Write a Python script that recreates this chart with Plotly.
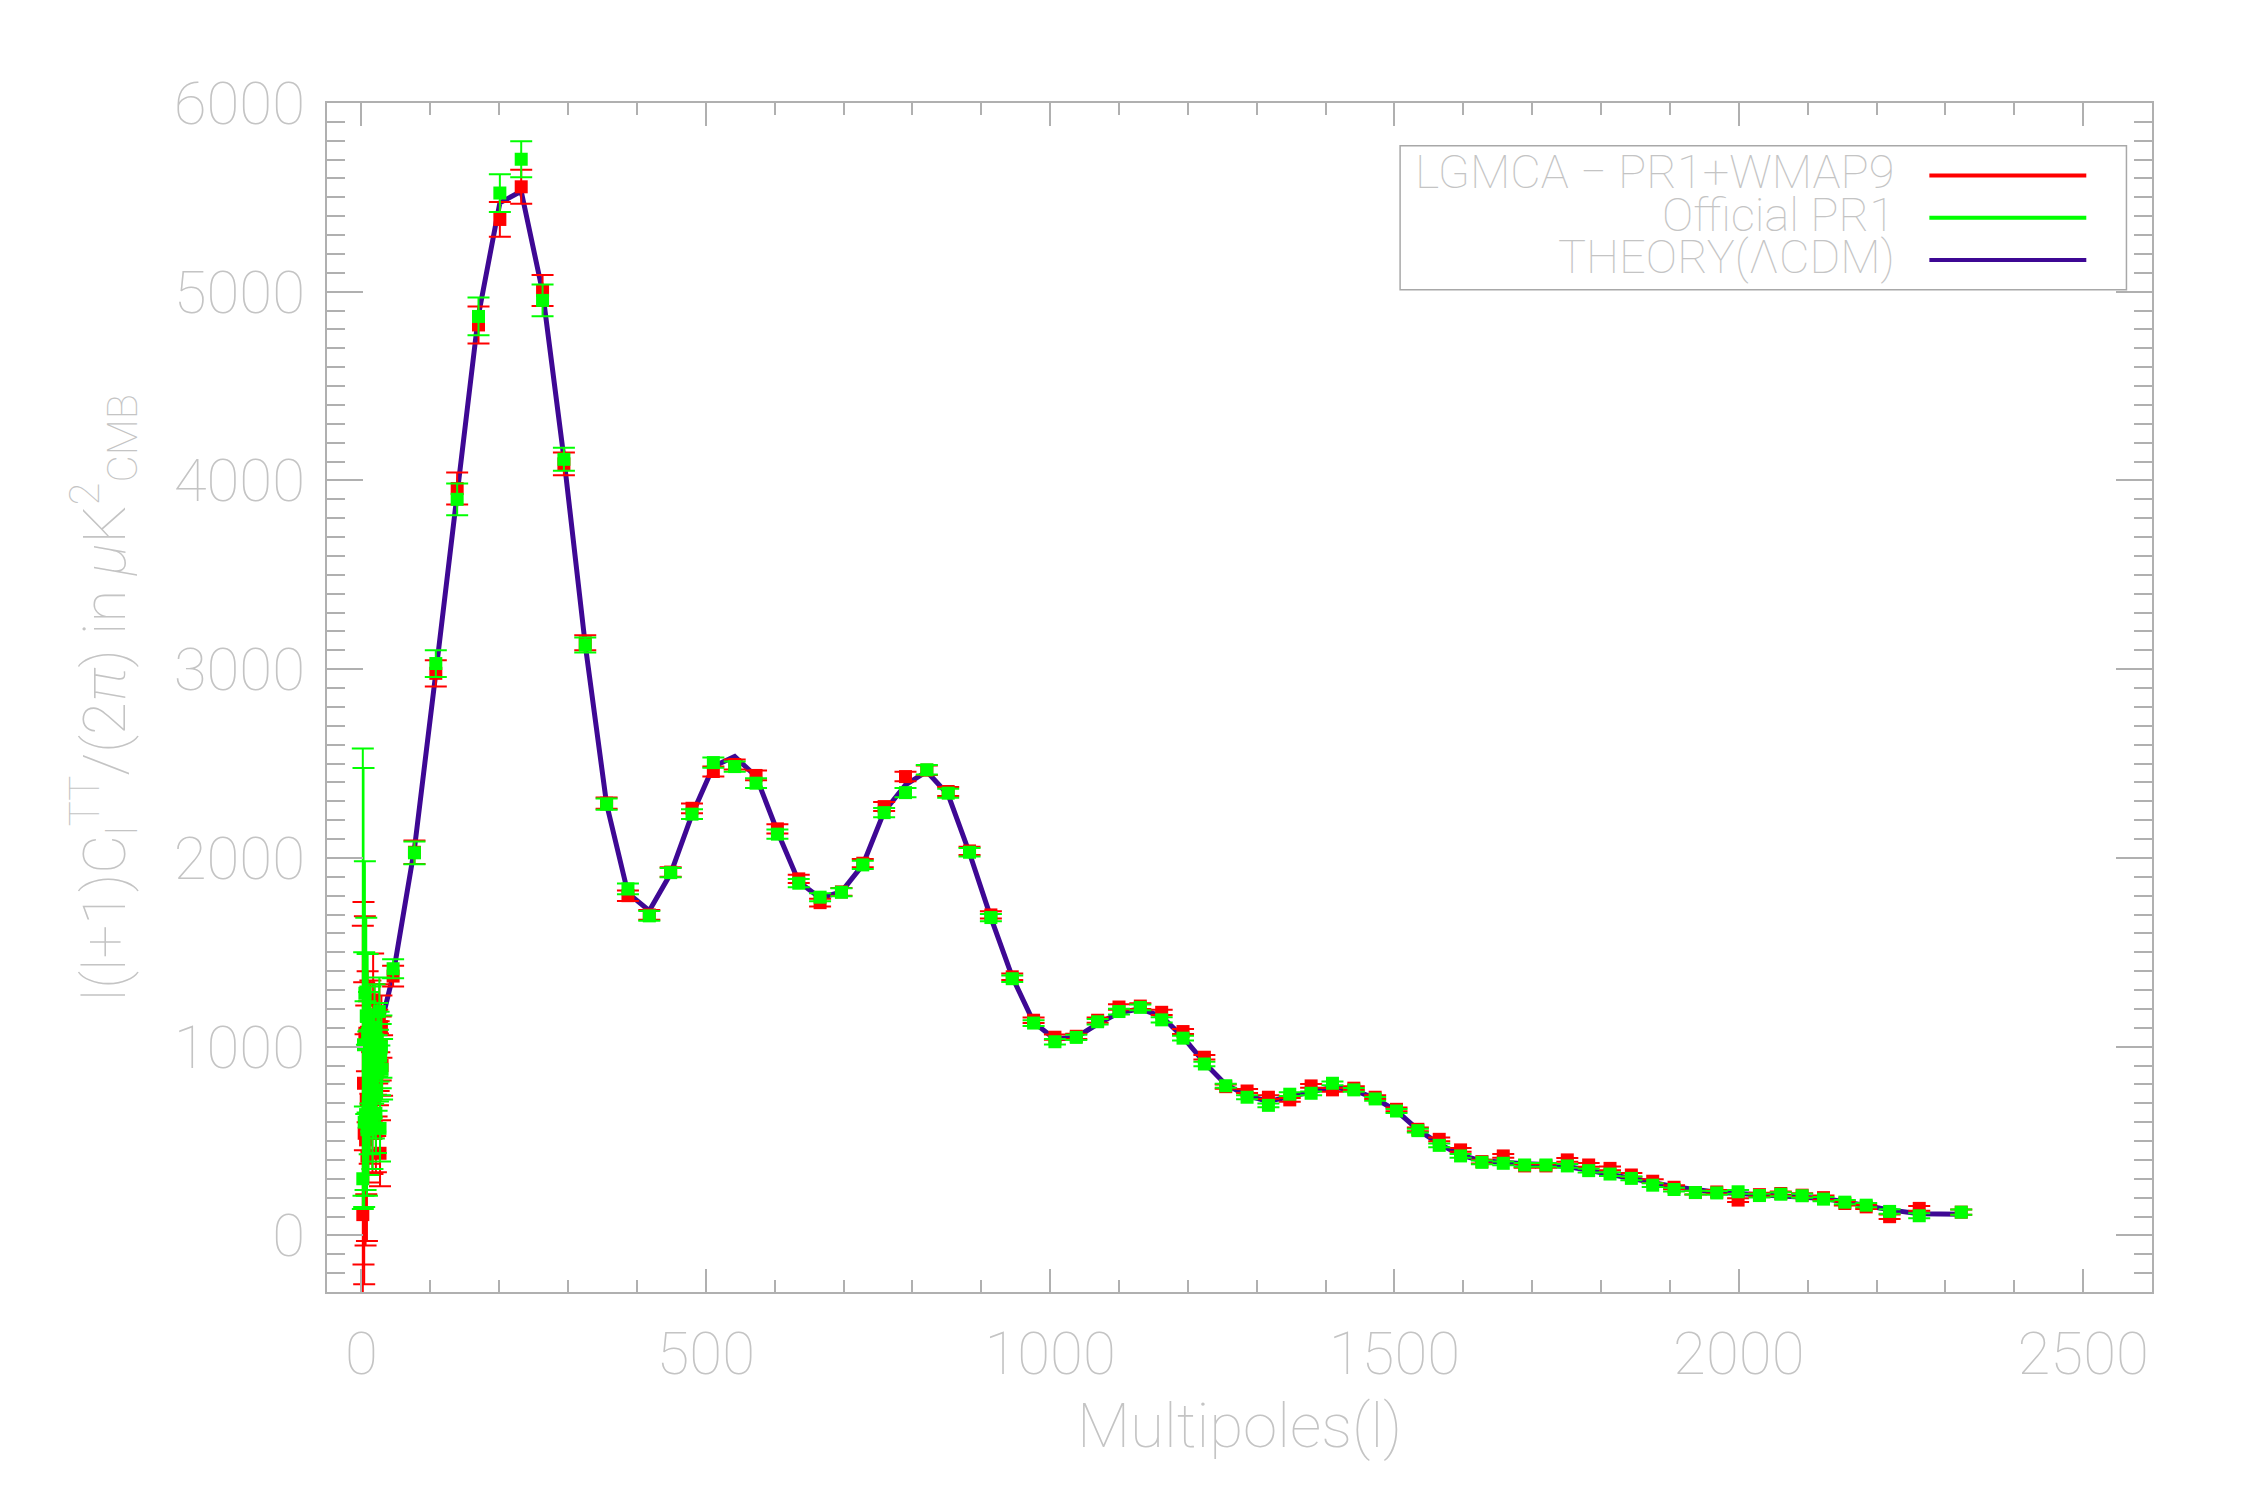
import plotly.graph_objects as go

# ---- data ----
# low multipoles, unbinned
ell_low = [2, 3, 4, 5, 6, 7, 8, 9, 10, 11, 12, 13, 14, 15, 16, 17, 18, 19, 20,
           21, 22, 23, 24, 25, 26, 27, 28, 29, 30]
pr1_low = [300, 1010, 600, 1283, 640, 1163, 560, 1071, 700, 940, 760, 1009, 841,
           894, 612, 948, 753, 1100, 771, 647, 860, 1036, 900, 1000, 1186, 567,
           950, 1000, 880]
pr1_low_err = [2280, 1466, 900, 700, 600, 520, 450, 420, 380, 350, 330, 310, 290,
               270, 260, 250, 240, 230, 220, 210, 200, 195, 190, 185, 180, 175,
               170, 165, 160]
pr1_low_err_minus = [160, 800, 450, 600, 400, 520, 350, 420, 380, 350, 330, 310,
                     290, 270, 260, 250, 240, 230, 220, 210, 200, 195, 190, 185,
                     180, 175, 170, 165, 160]
lgmca_low = [110, 806, 541, 1071, 506, 718, 420, 1000, 650, 900, 700, 1050, 820,
             870, 580, 1248, 760, 1106, 741, 540, 830, 1000, 880, 950, 1150, 435,
             990, 1106, 900]
lgmca_low_err = [1530, 960, 800, 620, 560, 500, 450, 400, 370, 340, 320, 300, 285,
                 270, 255, 245, 235, 225, 215, 205, 200, 195, 190, 185, 180, 175,
                 170, 165, 160]
theory_low = [1080, 1030, 980, 940, 910, 880, 860, 845, 835, 830, 828, 830, 835,
              840, 850, 860, 875, 890, 905, 925, 945, 965, 990, 1015, 1040, 1065,
              1090, 1115, 1140]

# binned multipoles
ell_bin = [46, 77, 108, 139, 170, 201, 232, 263, 294, 325, 356, 387, 418, 449,
           480, 511, 542, 573, 604, 635, 666, 697, 728, 759, 790, 821, 852, 883,
           914, 945, 976, 1007, 1038, 1069, 1100, 1131, 1162, 1193, 1224, 1255,
           1286, 1317, 1348, 1379, 1410, 1441, 1472, 1503, 1534, 1565, 1596, 1627,
           1658, 1689, 1720, 1751, 1782, 1813, 1844, 1875, 1906, 1937, 1968, 1999,
           2030, 2061, 2092, 2123, 2154, 2185, 2219, 2262, 2323]
pr1_bin = [1413, 2027, 3030, 3900, 4869, 5523, 5702, 4954, 4112, 3128, 2285, 1836,
           1693, 1922, 2232, 2505, 2484, 2396, 2126, 1866, 1792, 1818, 1963, 2240,
           2346, 2467, 2343, 2030, 1684, 1360, 1125, 1026, 1049, 1132, 1186, 1208,
           1142, 1045, 908, 793, 732, 689, 748, 753, 806, 771, 723, 659, 555, 477,
           421, 387, 382, 373, 373, 368, 343, 325, 302, 266, 243, 227, 225, 231,
           211, 218, 210, 192, 176, 160, 127, 104, 123]
pr1_bin_err = [50, 60, 71, 84, 100, 100, 95, 84, 61, 40, 30, 28, 26, 25, 26, 27,
               27, 26, 24, 22, 21, 21, 22, 24, 25, 25, 24, 22, 19, 17, 15, 14, 14,
               14, 15, 15, 14, 13, 12, 11, 11, 10, 10, 10, 10, 10, 10, 10, 10, 10,
               10, 10, 10, 10, 10, 10, 10, 10, 10, 10, 10, 10, 10, 10, 10, 10, 10,
               11, 11, 11, 12, 13, 14]
lgmca_bin = [1374, 2030, 2978, 3957, 4824, 5383, 5556, 5006, 4088, 3140, 2290,
             1800, 1698, 1925, 2263, 2458, 2495, 2437, 2154, 1889, 1763, 1820, 1972,
             2272, 2431, 2465, 2352, 2037, 1698, 1370, 1140, 1050, 1055, 1140, 1210,
             1215, 1182, 1080, 944, 788, 765, 732, 718, 792, 771, 780, 732, 668, 562,
             509, 453, 391, 421, 368, 368, 400, 373, 355, 320, 287, 255, 227, 230,
             187, 216, 222, 213, 200, 169, 151, 99, 143, 123]
lgmca_bin_err = [55, 62, 70, 85, 98, 92, 90, 82, 60, 40, 30, 28, 26, 25, 26, 27,
                 27, 26, 24, 22, 21, 21, 22, 24, 25, 25, 24, 22, 19, 17, 15, 14, 14,
                 14, 15, 15, 14, 13, 12, 11, 11, 10, 10, 10, 10, 10, 10, 10, 10, 10,
                 10, 10, 10, 10, 10, 10, 10, 10, 10, 10, 10, 10, 10, 10, 10, 10, 10,
                 11, 11, 11, 12, 13, 14]
theory_bin = [1380, 2050, 2980, 3936, 4878, 5471, 5532, 5000, 4118, 3130, 2285,
              1813, 1720, 1917, 2229, 2485, 2537, 2432, 2140, 1874, 1788, 1820, 1963,
              2245, 2387, 2458, 2334, 2025, 1684, 1370, 1130, 1040, 1050, 1120, 1180,
              1200, 1160, 1050, 915, 800, 740, 710, 735, 765, 785, 770, 725, 660, 560,
              485, 425, 395, 385, 380, 375, 365, 345, 325, 300, 280, 258, 242, 228,
              222, 215, 212, 205, 195, 178, 158, 135, 115, 112]

legend_names = ["LGMCA \u2212 PR1+WMAP9", "Official PR1", "THEORY(\u039bCDM)"]
RED = "rgb(255,0,0)"
GREEN = "rgb(0,255,0)"
PURPLE = "rgb(62,8,148)"
TXT = "#c4c4c4"
AX = "#b0b0b0"

ell = ell_low + ell_bin

fig = go.Figure()

fig.add_trace(go.Scatter(x=ell, y=theory_low + theory_bin, mode="lines",
                         line=dict(color=PURPLE, width=5), showlegend=False))

fig.add_trace(go.Scatter(
    x=ell, y=lgmca_low + lgmca_bin, mode="markers",
    marker=dict(symbol="square", size=13, color=RED, line=dict(width=0)),
    error_y=dict(type="data", array=lgmca_low_err + lgmca_bin_err, color=RED,
                 thickness=2, width=11),
    showlegend=False))

fig.add_trace(go.Scatter(
    x=ell, y=pr1_low + pr1_bin, mode="markers",
    marker=dict(symbol="square", size=13, color=GREEN, line=dict(width=0)),
    error_y=dict(type="data", symmetric=False, array=pr1_low_err + pr1_bin_err,
                 arrayminus=pr1_low_err_minus + pr1_bin_err, color=GREEN,
                 thickness=2, width=11),
    showlegend=False))

# hand made legend box, IDL style
fig.add_shape(type="rect", xref="paper", yref="paper", x0=0.588, x1=0.986,
              y0=0.843, y1=0.964, line=dict(color="#a8a8a8", width=1.5))
for name, col, yl in zip(legend_names, [RED, GREEN, PURPLE], [0.939, 0.9035, 0.868]):
    fig.add_shape(type="line", xref="paper", yref="paper", x0=0.878, x1=0.964,
                  y0=yl, y1=yl, line=dict(color=col, width=4))
    fig.add_annotation(xref="paper", yref="paper", x=0.860, y=yl + 0.003,
                       xanchor="right", yanchor="middle", text=name,
                       showarrow=False, font=dict(size=47, color=TXT))

axis_common = dict(showgrid=False, zeroline=False, showline=True, linecolor=AX,
                   linewidth=2, mirror="allticks", ticks="inside", tickcolor=AX,
                   tickwidth=2, automargin=False,
                   tickfont=dict(size=60, color=TXT))

fig.update_xaxes(range=[-50, 2600], tick0=0, dtick=500, ticklen=23,
                 ticklabelstandoff=8,
                 minor=dict(dtick=100, ticklen=12, ticks="inside", tickcolor=AX,
                            tickwidth=1.5),
                 title=dict(text="Multipoles(l)", font=dict(size=62, color=TXT),
                            standoff=0),
                 **axis_common)
fig.update_yaxes(range=[-300, 6000], tick0=0, dtick=1000, ticklen=36,
                 ticklabelstandoff=8,
                 minor=dict(dtick=100, ticklen=18, ticks="inside", tickcolor=AX,
                            tickwidth=1.5),
                 title=dict(text="l(l+1)C<sub>l</sub><sup>TT</sup>/(2<i>\u03c0</i>) in "
                                 "<i>\u03bc</i>K<sup>2</sup><sub>CMB</sub>",
                            font=dict(size=60, color=TXT), standoff=29),
                 **axis_common)

# page body has an 8px default margin, so pull the plot area back by that much
fig.update_layout(width=2250, height=1500, plot_bgcolor="white",
                  paper_bgcolor="white",
                  font=dict(family="Roboto", weight=100, color=TXT),
                  margin=dict(l=319, r=106, t=95, b=216), showlegend=False)

fig.write_html("out.html")
